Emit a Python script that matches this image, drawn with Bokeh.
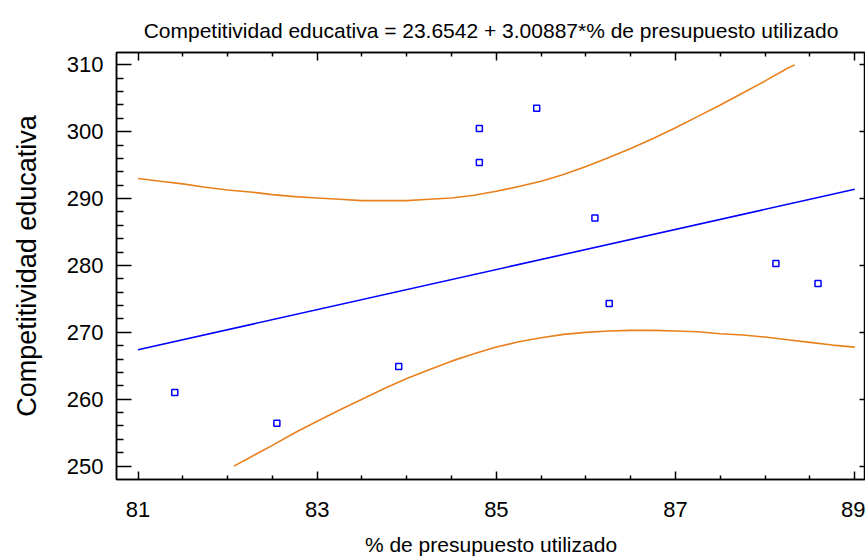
from bokeh.plotting import figure
from bokeh.models import Range1d, LinearAxis, FixedTicker
from bokeh.embed import file_html
from bokeh.resources import INLINE

# ---- data ----
x_obs = [81.41, 82.55, 83.91, 84.81, 84.81, 85.45, 86.10, 86.26, 88.12, 88.59]
y_obs = [261.0, 256.4, 264.9, 300.5, 295.4, 303.5, 287.1, 274.3, 280.3, 277.3]

x_fit = [81.0, 89.0]
y_fit = [267.4, 291.4]

x_upper = [81.0, 81.25, 81.5, 81.75, 82.0, 82.25, 82.5, 82.75, 83.0, 83.25, 83.5, 83.75,
           84.0, 84.25, 84.5, 84.75, 85.0, 85.25, 85.5, 85.75, 86.0, 86.25, 86.5, 86.75,
           87.0, 87.25, 87.5, 87.75, 88.0, 88.25, 88.33]
y_upper = [293.0, 292.6, 292.2, 291.7, 291.3, 291.0, 290.6, 290.3, 290.1, 289.9, 289.7, 289.7,
           289.7, 289.9, 290.1, 290.5, 291.1, 291.8, 292.6, 293.6, 294.8, 296.1, 297.5, 299.0,
           300.6, 302.3, 304.0, 305.8, 307.6, 309.5, 310.0]

x_lower = [82.07, 82.25, 82.5, 82.75, 83.0, 83.25, 83.5, 83.75, 84.0, 84.25, 84.5, 84.75,
           85.0, 85.25, 85.5, 85.75, 86.0, 86.25, 86.5, 86.75, 87.0, 87.25, 87.5, 87.75,
           88.0, 88.25, 88.5, 88.75, 89.0]
y_lower = [250.0, 251.3, 253.1, 255.0, 256.7, 258.4, 260.0, 261.6, 263.1, 264.4, 265.7, 266.8,
           267.8, 268.6, 269.2, 269.7, 270.0, 270.2, 270.3, 270.3, 270.2, 270.1, 269.8, 269.6,
           269.3, 268.9, 268.5, 268.1, 267.8]

x_major = [81, 83, 85, 87, 89]
x_minor = [81.5, 82, 82.5, 83.5, 84, 84.5, 85.5, 86, 86.5, 87.5, 88, 88.5]
y_major = [250, 260, 270, 280, 290, 300, 310]
y_minor = [252, 254, 256, 258, 262, 264, 266, 268, 272, 274, 276, 278,
           282, 284, 286, 288, 292, 294, 296, 298, 302, 304, 306, 308]

title_text = "Competitividad educativa = 23.6542 + 3.00887*% de presupuesto utilizado"
x_label = "% de presupuesto utilizado"
y_label = "Competitividad educativa"

FONT = "Liberation Sans"
BLUE = "#0000FF"
ORANGE = "#E8801E"

p = figure(width=865, height=558,
           x_range=Range1d(80.76, 89.12), y_range=Range1d(248.0, 311.85),
           x_axis_type=None, y_axis_type=None,
           output_backend="svg", toolbar_location=None,
           min_border_left=116, min_border_right=0,
           min_border_top=52, min_border_bottom=79)
p.background_fill_color = "white"
p.border_fill_color = "white"
p.outline_line_color = "black"
p.outline_line_width = 1.5

p.title.text = title_text
p.title.align = "center"
p.title.offset = 4
p.title.standoff = 18
p.title.vertical_align = "top"
p.title.text_font = FONT
p.title.text_font_size = "21px"
p.title.text_font_style = "normal"
p.title.text_color = "black"

xt = FixedTicker(ticks=x_major, minor_ticks=x_minor)
yt = FixedTicker(ticks=y_major, minor_ticks=y_minor)

def style(ax, tick_in, minor_in):
    ax.axis_line_color = "black"
    ax.axis_line_width = 1.5
    ax.major_tick_line_color = "black"
    ax.major_tick_line_width = 1.5
    ax.minor_tick_line_color = "black" if minor_in else None
    ax.minor_tick_line_width = 1.5
    ax.major_tick_in = tick_in
    ax.major_tick_out = 0
    ax.minor_tick_in = minor_in
    ax.minor_tick_out = 0

def hide_labels(ax, ticks):
    ax.major_label_overrides = {t: "" for t in ticks}
    ax.major_label_text_font_size = "8px"
    ax.major_label_standoff = 0

bottom = LinearAxis(ticker=xt, axis_label=x_label)
style(bottom, 8, 4)
bottom.major_label_text_font = FONT
bottom.major_label_text_font_size = "22px"
bottom.major_label_text_color = "black"
bottom.major_label_standoff = 22
bottom.axis_label_text_font = FONT
bottom.axis_label_text_font_size = "21px"
bottom.axis_label_text_font_style = "normal"
bottom.axis_label_text_color = "black"
bottom.axis_label_standoff = 13
p.add_layout(bottom, "below")

left = LinearAxis(ticker=yt, axis_label=y_label)
style(left, 15, 7)
left.major_label_text_font = FONT
left.major_label_text_font_size = "22px"
left.major_label_text_color = "black"
left.major_label_standoff = 13
left.axis_label_text_font = FONT
left.axis_label_text_font_size = "27px"
left.axis_label_text_font_style = "normal"
left.axis_label_text_color = "black"
left.axis_label_standoff = 22
p.add_layout(left, "left")

top = LinearAxis(ticker=xt)
style(top, 8, 4)
hide_labels(top, x_major)
p.add_layout(top, "above")

right = LinearAxis(ticker=yt)
style(right, 6, 0)
hide_labels(right, y_major)
p.add_layout(right, "right")

p.line(x_upper, y_upper, line_color=ORANGE, line_width=1.6)
p.line(x_lower, y_lower, line_color=ORANGE, line_width=1.6)
p.line(x_fit, y_fit, line_color=BLUE, line_width=1.6)
p.scatter(x_obs, y_obs, marker="square", size=6, fill_color=None,
          line_color=BLUE, line_width=1.5)

open("out.html", "w").write(file_html(p, INLINE))
